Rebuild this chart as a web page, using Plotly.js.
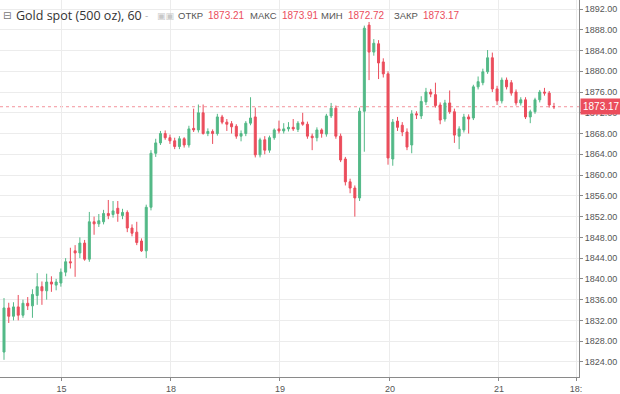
<!DOCTYPE html>
<html>
<head>
<meta charset="utf-8">
<script src="https://cdn.plot.ly/plotly-3.0.1.min.js"></script>
<style>
html,body{margin:0;padding:0;background:#fff;}
#chart{width:620px;height:394px;}
</style>
</head>
<body>
<div id="chart"></div>
<script>
// ---- data (hourly candles, Gold spot 500 oz) ----
const openVals = [1825.9,1834.4,1832.8,1834.6,1833.0,1835.3,1834.8,1836.8,1838.5,1837.7,
1839.4,1838.8,1839.2,1841.3,1843.3,1845.4,1845.0,1846.9,1843.8,1851.0,
1850.6,1851.0,1852.6,1852.4,1853.6,1852.2,1852.8,1849.8,1849.0,1847.3,
1845.4,1853.8,1864.2,1866.2,1868.0,1867.2,1866.6,1865.5,1867.0,1865.8,
1869.0,1868.7,1872.0,1868.0,1868.4,1868.0,1871.2,1870.2,1869.9,1869.4,
1867.5,1868.0,1870.0,1871.2,1863.9,1866.8,1864.8,1867.2,1868.9,1868.5,
1868.9,1869.2,1868.8,1870.2,1869.8,1867.5,1867.2,1868.7,1867.9,1871.4,
1872.9,1867.5,1863.1,1858.7,1857.5,1855.6,1872.3,1888.9,1883.7,1885.3,
1881.8,1879.5,1863.1,1870.4,1869.6,1868.3,1865.8,1871.8,1871.4,1874.1,
1876.0,1875.5,1873.5,1870.8,1873.9,1872.2,1867.5,1868.7,1871.2,1871.0,
1877.0,1877.8,1879.9,1882.6,1876.6,1874.3,1878.3,1877.8,1876.0,1873.9,
1874.5,1871.2,1872.2,1874.5,1876.0,1875.8,1873.21];
const highVals = [1836.3,1835.4,1835.5,1836.9,1836.0,1836.5,1838.0,1841.1,1839.5,1841.0,
1840.5,1840.0,1842.0,1844.0,1846.0,1846.5,1848.0,1847.5,1852.9,1852.0,
1852.5,1853.3,1855.2,1855.0,1855.0,1853.5,1853.2,1850.5,1851.0,1847.8,
1854.3,1864.8,1867.0,1868.5,1868.6,1867.8,1867.2,1867.5,1867.3,1869.5,
1872.8,1873.6,1873.6,1869.0,1868.8,1871.8,1871.6,1870.8,1870.4,1869.8,
1868.6,1870.4,1875.0,1873.0,1867.2,1867.5,1867.6,1869.0,1870.5,1870.0,
1870.2,1870.8,1870.4,1872.0,1870.3,1868.0,1869.2,1869.0,1871.8,1873.9,
1873.4,1868.0,1863.5,1859.3,1858.0,1873.0,1888.8,1889.5,1886.2,1886.0,
1882.5,1880.0,1870.8,1871.2,1870.2,1869.0,1872.5,1872.3,1875.2,1876.8,
1876.6,1877.8,1874.0,1874.5,1876.3,1872.8,1869.4,1871.8,1871.7,1877.4,
1879.0,1880.5,1884.1,1883.6,1877.2,1878.8,1878.8,1878.3,1876.5,1875.0,
1875.0,1872.6,1874.9,1876.4,1876.8,1876.2,1873.91];
const lowVals = [1824.4,1831.5,1832.0,1832.0,1832.5,1834.0,1832.5,1835.0,1835.0,1836.0,
1837.5,1837.8,1838.5,1840.5,1842.0,1840.4,1844.0,1843.5,1843.3,1848.5,
1850.0,1850.5,1851.5,1851.8,1851.0,1851.5,1849.0,1848.2,1846.5,1845.2,
1844.0,1853.2,1863.5,1865.8,1866.8,1866.0,1865.0,1865.0,1865.3,1865.3,
1868.3,1868.2,1867.8,1867.5,1866.0,1867.6,1869.8,1868.5,1868.0,1867.0,
1866.5,1867.5,1869.6,1863.4,1863.4,1864.0,1864.3,1866.8,1868.0,1868.0,
1868.4,1868.5,1868.3,1869.5,1867.0,1864.8,1866.5,1867.2,1867.4,1871.0,
1867.0,1862.5,1858.0,1856.5,1852.0,1855.0,1864.5,1878.3,1883.0,1878.5,
1878.8,1862.0,1861.8,1868.5,1867.5,1864.8,1864.2,1870.8,1870.8,1873.5,
1875.0,1873.0,1869.8,1870.3,1871.8,1866.2,1865.0,1868.2,1868.0,1870.6,
1876.5,1877.3,1879.5,1876.0,1873.5,1873.8,1876.5,1875.3,1873.4,1873.4,
1870.8,1870.0,1871.8,1874.0,1875.3,1873.0,1872.72];
const closeVals = [1834.4,1832.8,1834.6,1833.0,1835.3,1834.8,1837.0,1838.5,1837.7,1839.4,
1839.0,1839.4,1841.3,1843.3,1843.1,1845.0,1846.9,1843.8,1851.0,1850.6,
1851.2,1852.6,1852.2,1853.1,1852.6,1852.8,1849.8,1848.8,1847.0,1845.4,
1853.8,1864.2,1866.2,1868.0,1867.2,1866.6,1865.5,1867.0,1865.8,1868.9,
1868.7,1872.0,1868.0,1868.4,1868.0,1871.2,1870.2,1869.8,1869.3,1867.5,
1868.0,1870.0,1871.0,1863.9,1866.8,1864.8,1867.2,1868.7,1868.5,1868.9,
1869.2,1868.9,1870.0,1869.8,1867.5,1867.2,1868.7,1868.0,1871.4,1872.9,
1867.5,1862.9,1858.7,1857.5,1855.6,1872.3,1888.3,1883.7,1885.4,1881.6,
1879.5,1863.3,1870.2,1869.2,1868.3,1865.4,1871.8,1871.6,1874.2,1876.0,
1875.6,1873.4,1870.6,1873.9,1872.2,1867.7,1868.9,1871.2,1870.8,1877.0,
1878.0,1879.9,1882.6,1876.6,1874.3,1878.3,1877.0,1875.8,1873.9,1874.5,
1871.2,1872.2,1874.5,1876.0,1875.8,1873.5,1873.17];

// day boundaries on the candle-index axis, and their labels
const dayTickIdx = [12.15, 35.2, 58.2, 81.4, 104.4, 120.65];
const dayTickText = ['15', '18', '19', '20', '21', '18:'];

// header values
const symbolTitle = 'Gold spot (500 oz), 60';
const ohlcLabels = ['ОТКР', 'МАКС', 'МИН', 'ЗАКР'];
const ohlcValues = ['1873.21', '1873.91', '1872.72', '1873.17'];
const lastPrice = 1873.17;

// ---- drawing ----
const GREEN = '#53b987', RED = '#eb4d5c';
const xIdx = openVals.map((_, i) => i);

const trace = {
  type: 'candlestick',
  x: xIdx, open: openVals, high: highVals, low: lowVals, close: closeVals,
  increasing: {line: {color: GREEN, width: 1}, fillcolor: GREEN},
  decreasing: {line: {color: RED, width: 1}, fillcolor: RED},
  whiskerwidth: 0,
  hoverinfo: 'skip'
};

const PW = 579; // plot width in px
const PH = 377;
const px = v => v / PW;
const py = v => 1 - v / PH;

const annotations = [];
const hdrFont = 'Open Sans, DejaVu Sans, sans-serif';
const numFont = 'Liberation Sans, Arial, sans-serif';
annotations.push({xref:'paper', yref:'paper', x:px(1), y:py(16), xanchor:'left', yanchor:'middle',
  text:'⊟', showarrow:false, font:{family:'DejaVu Sans', size:10, color:'#777'}});
annotations.push({xref:'paper', yref:'paper', x:px(14), y:py(16), xanchor:'left', yanchor:'middle',
  text:symbolTitle, showarrow:false, font:{family:hdrFont, size:12.5, color:'#333'}});
annotations.push({xref:'paper', yref:'paper', x:px(143), y:py(16), xanchor:'left', yanchor:'middle',
  text:'-', showarrow:false, font:{family:'DejaVu Sans', size:9, color:'#aaa'}});
annotations.push({xref:'paper', yref:'paper', x:px(155), y:py(16), xanchor:'left', yanchor:'middle',
  text:'▣▣', showarrow:false, font:{family:'DejaVu Sans', size:9, color:'#c8c8c8'}});
const valStartX = [206, 280, 346, 421];
for (let i = 0; i < ohlcLabels.length; i++) {
  annotations.push({xref:'paper', yref:'paper', x:px(valStartX[i] - 1), y:py(16), xanchor:'right', yanchor:'middle',
    text:ohlcLabels[i], showarrow:false, font:{family:numFont, size:9.5, color:'#555'}});
  annotations.push({xref:'paper', yref:'paper', x:px(valStartX[i]), y:py(16), xanchor:'left', yanchor:'middle',
    text:ohlcValues[i], showarrow:false, font:{family:numFont, size:10, color:RED}});
}
annotations.push({xref:'paper', yref:'y', x:1, y:lastPrice, xanchor:'left', yanchor:'middle', xshift:1,
  text:lastPrice.toFixed(2), showarrow:false, bgcolor:RED, borderpad:2,
  font:{family:numFont, size:10, color:'#fff'}});

const layout = {
  width: 620, height: 394,
  margin: {l: 0, r: 41, t: 0, b: 17, pad: 0},
  paper_bgcolor: '#fff', plot_bgcolor: '#fff',
  showlegend: false,
  boxgap: 0.4,
  xaxis: {
    type: 'linear', range: [-0.844, 121.28], rangeslider: {visible: false},
    tickmode: 'array', tickvals: dayTickIdx, ticktext: dayTickText,
    showgrid: true, gridcolor: '#ececec', gridwidth: 1,
    showline: true, linecolor: '#8a8a8a', linewidth: 1,
    ticks: 'outside', ticklen: 3, tickcolor: '#8a8a8a',
    tickfont: {family: numFont, size: 9, color: '#555'},
    zeroline: false, fixedrange: true
  },
  yaxis: {
    side: 'right', range: [1821.094, 1893.734],
    tickmode: 'linear', tick0: 1824, dtick: 4, tickformat: '.2f',
    showgrid: true, gridcolor: '#ececec', gridwidth: 1,
    showline: true, linecolor: '#8a8a8a', linewidth: 1,
    ticks: 'outside', ticklen: 3, tickcolor: '#8a8a8a',
    tickfont: {family: numFont, size: 9, color: '#555'},
    zeroline: false, fixedrange: true
  },
  shapes: [
    {type: 'line', xref: 'paper', yref: 'y', x0: 0, x1: 1, y0: lastPrice, y1: lastPrice,
     line: {color: 'rgba(235,77,92,0.6)', width: 1, dash: 'dot'}, layer: 'below'}
  ],
  annotations: annotations
};

Plotly.newPlot('chart', [trace], layout, {displayModeBar: false, staticPlot: true});
</script>
</body>
</html>
